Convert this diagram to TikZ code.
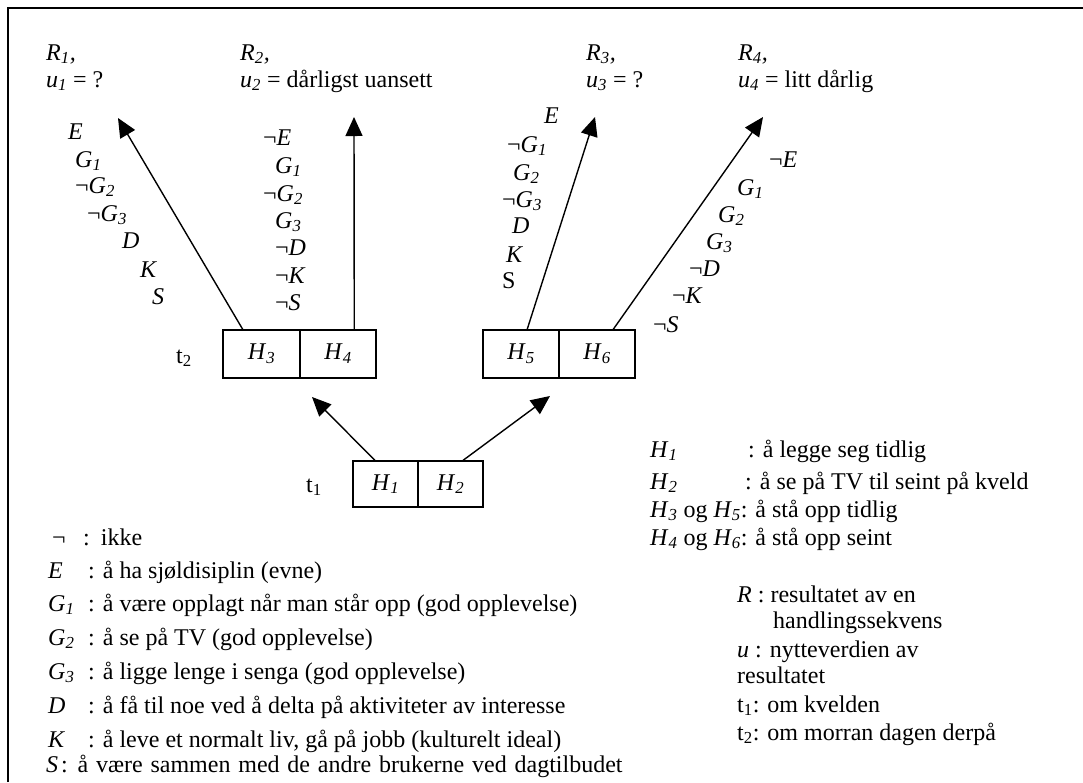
\documentclass[tikz,border=0pt]{standalone}
\usepackage{fontspec}
\setmainfont{Liberation Serif}
\usetikzlibrary{arrows.meta,calc}
\newcommand{\sy}[2]{\textit{#1}\textsubscript{\textit{#2}}}
\newcommand{\nt}{\textlnot}
\begin{document}
\begin{tikzpicture}[x=1pt,y=-1pt,
  every node/.style={font=\fontsize{24}{28}\selectfont},
  lbl/.style={anchor=base west, inner sep=0pt},
  half/.style={draw, line width=1.4pt, minimum height=48pt, inner sep=0pt},
  conn/.style={line width=1.4pt, -{Triangle[length=19pt,width=17pt]}}]
\useasboundingbox (0,0) rectangle (1083,782);
% frame
\draw[line width=2pt] (8,782) -- (8,8) -- (1083,8);
% result headers
\node[lbl] (r1a) at (46,60) {\sy{R}{1}\textit{,}};
\node[lbl] (r1b) at (46,87) {\sy{u}{1} = ?};
\node[lbl] (r2a) at (240,60) {\sy{R}{2}\textit{,}};
\node[lbl] (r2b) at (240,87) {\sy{u}{2} = dårligst uansett};
\node[lbl] (r3a) at (586,60) {\sy{R}{3}\textit{,}};
\node[lbl] (r3b) at (586,87) {\sy{u}{3} = ?};
\node[lbl] (r4a) at (738,60) {\sy{R}{4}\textit{,}};
\node[lbl] (r4b) at (738,87) {\sy{u}{4} = litt dårlig};
% boxes
\node[half, minimum width=77pt] (H3) at (261.5,354) {\sy{H}{3}};
\node[half, minimum width=76pt] (H4) at (338,354) {\sy{H}{4}};
\node[half, minimum width=76pt] (H5) at (521,354) {\sy{H}{5}};
\node[half, minimum width=76pt] (H6) at (597,354) {\sy{H}{6}};
\node[half, minimum width=65pt, minimum height=46pt] (H1) at (385.5,484) {\sy{H}{1}};
\node[half, minimum width=65pt, minimum height=46pt] (H2) at (450.5,484) {\sy{H}{2}};
\node[lbl] (t2) at (176,363) {t\textsubscript{2}};
\node[lbl] (t1) at (306,492) {t\textsubscript{1}};
% arrow tips
\coordinate (p1) at (118,118);
\coordinate (p2) at (354,117);
\coordinate (p3) at (595,117);
\coordinate (p4) at (763,117);
\coordinate (q1) at (312,397);
\coordinate (q2) at (550,396);
\draw[conn] ($(H3.north west)!0.26!(H3.north east)$) -- (p1);
\draw[conn] ($(H4.north west)!0.71!(H4.north east)$) -- (p2);
\draw[conn] ($(H5.north west)!0.58!(H5.north east)$) -- (p3);
\draw[conn] ($(H6.north west)!0.71!(H6.north east)$) -- (p4);
\draw[conn] ($(H1.north west)!0.34!(H1.north east)$) -- (q1);
\draw[conn] ($(H2.north west)!0.69!(H2.north east)$) -- (q2);
% list R1
\node[lbl] (a1) at (68,139) {\textit{E}};
\node[lbl] (a2) at (75,167) {\sy{G}{1}};
\node[lbl] (a3) at (75,193) {\nt\sy{G}{2}};
\node[lbl] (a4) at (87,221) {\nt\sy{G}{3}};
\node[lbl] (a5) at (122,248) {\textit{D}};
\node[lbl] (a6) at (140,277) {\textit{K}};
\node[lbl] (a7) at (152,304) {\textit{S}};
% list R2
\node[lbl] (b1) at (263,145) {\nt\textit{E}};
\node[lbl] (b2) at (275,173) {\sy{G}{1}};
\node[lbl] (b3) at (263,201) {\nt\sy{G}{2}};
\node[lbl] (b4) at (275,228) {\sy{G}{3}};
\node[lbl] (b5) at (275,255) {\nt\textit{D}};
\node[lbl] (b6) at (275,283) {\nt\textit{K}};
\node[lbl] (b7) at (275,310) {\nt\textit{S}};
% list R3
\node[lbl] (c1) at (544,123) {\textit{E}};
\node[lbl] (c2) at (507,152) {\nt\sy{G}{1}};
\node[lbl] (c3) at (513,180) {\sy{G}{2}};
\node[lbl] (c4) at (502,207) {\nt\sy{G}{3}};
\node[lbl] (c5) at (512,233) {\textit{D}};
\node[lbl] (c6) at (506,262) {\textit{K}};
\node[lbl] (c7) at (502,288) {S};
% list R4
\node[lbl] (d1) at (769,167) {\nt\textit{E}};
\node[lbl] (d2) at (737,195) {\sy{G}{1}};
\node[lbl] (d3) at (718,222) {\sy{G}{2}};
\node[lbl] (d4) at (706,249) {\sy{G}{3}};
\node[lbl] (d5) at (689,276) {\nt\textit{D}};
\node[lbl] (d6) at (672,303) {\nt\textit{K}};
\node[lbl] (d7) at (653,332) {\nt\textit{S}};
% legend left
\node[lbl] (l0s) at (52,545) {\nt};
\node[lbl] (l0t) at (83,545) {:\hspace{11pt}ikke};
\node[lbl] (l1s) at (48,578) {\textit{E}};
\node[lbl] (l1t) at (88,578) {: å ha sjøldisiplin (evne)};
\node[lbl] (l2s) at (48,611) {\sy{G}{1}};
\node[lbl] (l2t) at (88,611) {: å være opplagt når man står opp (god opplevelse)};
\node[lbl] (l3s) at (48,645) {\sy{G}{2}};
\node[lbl] (l3t) at (88,645) {: å se på TV (god opplevelse)};
\node[lbl] (l4s) at (48,679) {\sy{G}{3}};
\node[lbl] (l4t) at (88,679) {: å ligge lenge i senga (god opplevelse)};
\node[lbl] (l5s) at (48,713) {\textit{D}};
\node[lbl] (l5t) at (88,713) {: å få til noe ved å delta på aktiviteter av interesse};
\node[lbl] (l6s) at (48,747) {\textit{K}};
\node[lbl] (l6t) at (88,747) {: å leve et normalt liv, gå på jobb (kulturelt ideal)};
\node[lbl] (l7s) at (46,772) {\textit{S}};
\node[lbl] (l7t) at (61,772) {\spaceskip=7.8pt plus 1pt\relax : å være sammen med de andre brukerne ved dagtilbudet};
% legend right
\node[lbl] (m1s) at (650,457) {\sy{H}{1}};
\node[lbl] (m1t) at (748,457) {: å legge seg tidlig};
\node[lbl] (m2s) at (650,489) {\sy{H}{2}};
\node[lbl] (m2t) at (745,489) {: å se på TV til seint på kveld};
\node[lbl] (m3) at (650,517) {\sy{H}{3} og \sy{H}{5}: å stå opp tidlig};
\node[lbl] (m4) at (650,545) {\sy{H}{4} og \sy{H}{6}: å stå opp seint};
\node[lbl] (n1) at (737,602) {\textit{R} : resultatet av en};
\node[lbl] (n2) at (773,628) {handlingssekvens};
\node[lbl] (n3) at (737,657) {\textit{u} : nytteverdien av};
\node[lbl] (n4) at (737,683) {resultatet};
\node[lbl] (n5) at (737,712) {t\textsubscript{1}: om kvelden};
\node[lbl] (n6) at (737,740) {t\textsubscript{2}: om morran dagen derpå};
\end{tikzpicture}
\end{document}
